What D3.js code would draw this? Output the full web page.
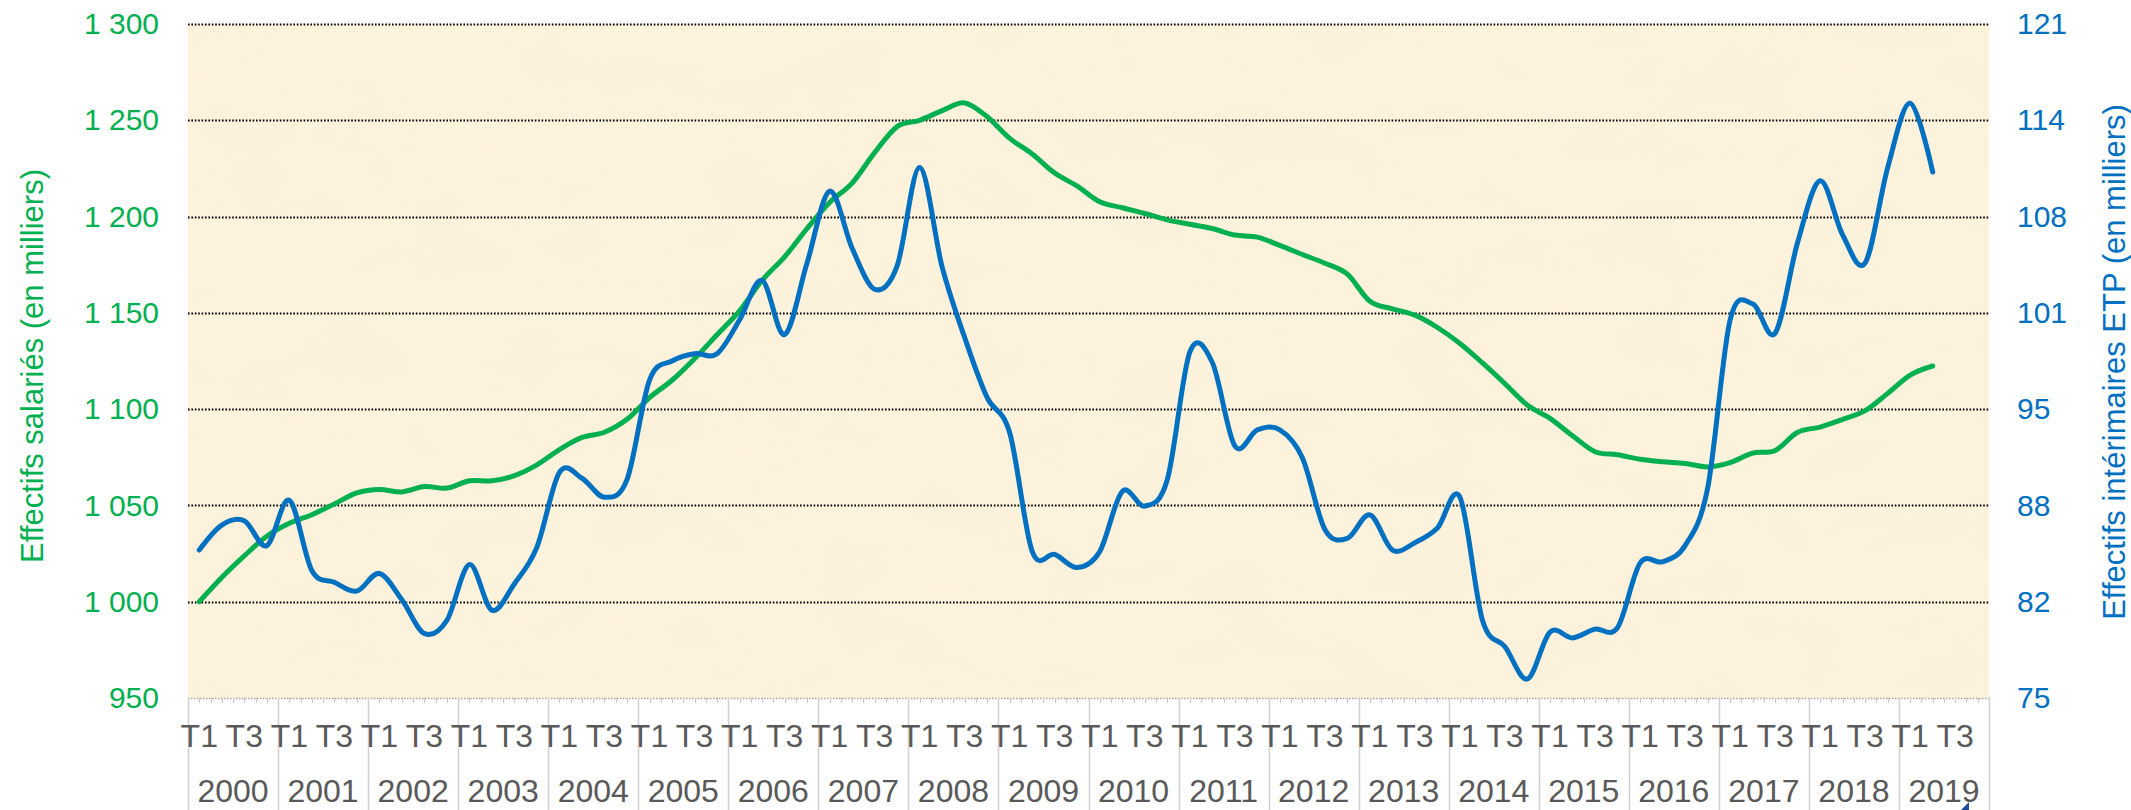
<!DOCTYPE html>
<html>
<head>
<meta charset="utf-8">
<script src="https://cdn.jsdelivr.net/npm/d3@7"></script>
<style>
  html, body { margin: 0; padding: 0; background: #ffffff; }
  svg { display: block; }
  text { font-family: "Liberation Sans", Arial, sans-serif; }
</style>
</head>
<body>
<svg id="chart" width="2131" height="810"></svg>
<script>
// ---------- DATA ----------
const years = ["2000","2001","2002","2003","2004","2005","2006","2007","2008","2009",
               "2010","2011","2012","2013","2014","2015","2016","2017","2018","2019"];
const quarters = ["T1","T2","T3","T4"];
const quarterLabels = ["T1","","T3",""];

// Effectifs salariés (en milliers), quarterly 2000 T1 -> 2019 T2
const salaries = [
  1000, 1012.6, 1023.8, 1034, 1040.7, 1045.2, 1050.8, 1056.5,
  1058.3, 1057, 1059.8, 1059, 1062.8, 1062.8, 1065.5, 1071.1,
  1079, 1085.3, 1088, 1094.7, 1106, 1115, 1126.2, 1138.6,
  1151, 1166.8, 1179.1, 1193.8, 1207.3, 1217.4, 1233.2, 1246.7,
  1250, 1255, 1259, 1251.8, 1240.6, 1232.5, 1222.6, 1215.8,
  1207.7, 1204.6, 1201.6, 1198.3, 1196, 1193.8, 1190.4, 1189.3,
  1185, 1180.3, 1175.8, 1170.1, 1156, 1152.1, 1148.8, 1142.4,
  1134.1, 1124, 1113.2, 1102, 1095.2, 1086.2, 1077.9, 1076.3,
  1074, 1072.7, 1071.8, 1070, 1072.2, 1077.2, 1078.5, 1088,
  1090.7, 1094.7, 1099.2, 1108.2, 1117.7, 1122.4
];

// Effectifs intérimaires ETP (en milliers)
const interim = [
  85.1, 86.8, 87.1, 85.4, 88.5, 83.7, 82.9, 82.3,
  83.5, 81.7, 79.4, 80.3, 84.1, 81.0, 82.8, 85.3,
  90.4, 90.0, 88.7, 89.9, 96.7, 98.0, 98.5, 98.5,
  100.8, 103.5, 99.8, 104.7, 109.6, 105.7, 102.9, 104.5,
  111.2, 104.4, 99.6, 95.5, 93.1, 85.0, 84.8, 83.9,
  85.0, 89.1, 88.1, 89.9, 98.6, 97.9, 92.2, 93.3,
  93.3, 91.4, 86.5, 85.9, 87.5, 85.1, 85.6, 86.6,
  88.7, 80.3, 78.5, 76.3, 79.5, 79.1, 79.7, 79.8,
  84.2, 84.3, 85.4, 89.3, 100.8, 101.9, 99.9, 106.1,
  110.3, 106.6, 104.7, 111.2, 115.6, 110.9
];

const leftTicks = [950, 1000, 1050, 1100, 1150, 1200, 1250, 1300];
const rightTicks = [75, 81.571, 88.143, 94.714, 101.286, 107.857, 114.429, 121];

const leftTitle = "Effectifs salariés (en milliers)";
const rightTitle = "Effectifs intérimaires ETP (en milliers)";

// ---------- LAYOUT ----------
const plot = { left: 188, right: 1989, top: 24, bottom: 698 };
const greenColor = "#00B050";
const blueColor = "#0070C0";
const labelGrey = "#595959";

const svg = d3.select("#chart");

// keys for all quarters (axis covers 2000 T1 .. 2019 T4)
const qKeys = [];
years.forEach(y => quarters.forEach(q => qKeys.push(y + "-" + q)));

const x = d3.scaleBand().domain(qKeys).range([plot.left, plot.right]).padding(0);
const xYear = d3.scaleBand().domain(years).range([plot.left, plot.right]).padding(0);
const yL = d3.scaleLinear().domain([950, 1300]).range([plot.bottom, plot.top]);
const yR = d3.scaleLinear().domain([75, 121]).range([plot.bottom, plot.top]);

const xc = i => x(qKeys[i]) + x.bandwidth() / 2;

// ---------- BACKGROUND (parchment) ----------
const defs = svg.append("defs");
const f = defs.append("filter").attr("id", "paper")
  .attr("x", 0).attr("y", 0).attr("width", "100%").attr("height", "100%");
f.append("feTurbulence").attr("type", "fractalNoise")
  .attr("baseFrequency", "0.010 0.018").attr("numOctaves", 3).attr("seed", 7).attr("result", "n");
f.append("feColorMatrix").attr("in", "n").attr("type", "matrix")
  .attr("values", "0 0 0 0 0.95  0 0 0 0 0.88  0 0 0 0 0.72  0 0 0 1.6 -0.62");

svg.append("rect")
  .attr("x", plot.left).attr("y", plot.top)
  .attr("width", plot.right - plot.left).attr("height", plot.bottom - plot.top)
  .attr("fill", "#FDF2DB");
svg.append("rect")
  .attr("x", plot.left).attr("y", plot.top)
  .attr("width", plot.right - plot.left).attr("height", plot.bottom - plot.top)
  .attr("fill", "#fff").attr("filter", "url(#paper)").attr("opacity", 0.55);

// ---------- GRIDLINES ----------
svg.append("g").selectAll("line")
  .data(leftTicks.filter(t => t > 950))
  .join("line")
  .attr("x1", plot.left).attr("x2", plot.right)
  .attr("y1", d => Math.round(yL(d)) + 0.5).attr("y2", d => Math.round(yL(d)) + 0.5)
  .attr("stroke", "#000").attr("stroke-width", 1.8)
  .attr("stroke-dasharray", "1.6,1.8");

// ---------- LEFT AXIS ----------
const frLocale = d3.formatLocale({ decimal: ",", thousands: " ", grouping: [3], currency: ["", " €"] });
const fmtL = frLocale.format(",d");
const axL = d3.axisLeft(yL).tickValues(leftTicks).tickFormat(fmtL).tickSize(0).tickPadding(0);
const gL = svg.append("g").attr("transform", "translate(159,0)").call(axL);
gL.select(".domain").remove();
gL.selectAll("text")
  .attr("fill", greenColor).attr("font-size", 30)
  .attr("font-family", "'Liberation Sans', Arial, sans-serif");

// ---------- RIGHT AXIS ----------
const axR = d3.axisRight(yR).tickValues(rightTicks).tickFormat(d => String(Math.round(d))).tickSize(0).tickPadding(0);
const gR = svg.append("g").attr("transform", "translate(2017,0)").call(axR);
gR.select(".domain").remove();
gR.selectAll("text")
  .attr("fill", blueColor).attr("font-size", 30)
  .attr("font-family", "'Liberation Sans', Arial, sans-serif");

// ---------- AXIS TITLES ----------
svg.append("text")
  .attr("transform", "translate(43,366) rotate(-90)")
  .attr("text-anchor", "middle")
  .attr("fill", greenColor).attr("font-size", 31)
  .text(leftTitle);
svg.append("text")
  .attr("transform", "translate(2125,362) rotate(-90)")
  .attr("text-anchor", "middle")
  .attr("fill", blueColor).attr("font-size", 31)
  .text(rightTitle);

// ---------- X AXIS ----------
// axis line (grey dotted)
svg.append("line")
  .attr("x1", plot.left).attr("x2", plot.right)
  .attr("y1", plot.bottom + 0.5).attr("y2", plot.bottom + 0.5)
  .attr("stroke", "#a6a6a6").attr("stroke-width", 1.5)
  .attr("stroke-dasharray", "1.5,1.5");

// minor ticks (half-quarter spacing)
const minorKeys = [];
qKeys.forEach(k => { minorKeys.push([k, 0]); minorKeys.push([k, 0.5]); });
svg.append("g").selectAll("line")
  .data(minorKeys)
  .join("line")
  .attr("x1", d => Math.round(x(d[0]) + d[1] * x.bandwidth()) + 0.5)
  .attr("x2", d => Math.round(x(d[0]) + d[1] * x.bandwidth()) + 0.5)
  .attr("y1", plot.bottom).attr("y2", plot.bottom + 5)
  .attr("stroke", "#c8c8c8").attr("stroke-width", 1);

// year separators
const sepVals = years.map(y => xYear(y)).concat([plot.right]);
svg.append("g").selectAll("line")
  .data(sepVals)
  .join("line")
  .attr("x1", d => Math.round(d) + 0.5).attr("x2", d => Math.round(d) + 0.5)
  .attr("y1", plot.bottom).attr("y2", 810)
  .attr("stroke", "#d0d0d0").attr("stroke-width", 1.5);

// quarter labels via axis
const axQ = d3.axisBottom(x)
  .tickValues(qKeys.filter((k, i) => quarterLabels[i % 4] !== ""))
  .tickFormat(k => k.split("-")[1])
  .tickSize(0).tickPadding(0);
const gQ = svg.append("g").attr("transform", `translate(0,${plot.bottom})`).call(axQ);
gQ.select(".domain").remove();
gQ.selectAll("text")
  .attr("dy", null).attr("y", 49)
  .attr("fill", labelGrey).attr("font-size", 32)
  .attr("font-family", "'Liberation Sans', Arial, sans-serif");

// year labels via axis
const axY = d3.axisBottom(xYear).tickSize(0).tickPadding(0);
const gY = svg.append("g").attr("transform", `translate(0,${plot.bottom})`).call(axY);
gY.select(".domain").remove();
gY.selectAll("text")
  .attr("dy", null).attr("y", 104)
  .attr("fill", labelGrey).attr("font-size", 32)
  .attr("font-family", "'Liberation Sans', Arial, sans-serif");

// ---------- LINES ----------
const curve = d3.curveCardinal.tension(0);
const lineL = d3.line().x((d, i) => xc(i)).y(d => yL(d)).curve(curve);
const lineR = d3.line().x((d, i) => xc(i)).y(d => yR(d)).curve(curve);

svg.append("path").datum(salaries)
  .attr("d", lineL).attr("fill", "none")
  .attr("stroke", greenColor).attr("stroke-width", 5)
  .attr("stroke-linecap", "round").attr("stroke-linejoin", "round");

svg.append("path").datum(interim)
  .attr("d", lineR).attr("fill", "none")
  .attr("stroke", blueColor).attr("stroke-width", 5)
  .attr("stroke-linecap", "round").attr("stroke-linejoin", "round");

// small corner marker at bottom
svg.append("path")
  .attr("d", "M1961,810 L1969,802 L1969,810 Z")
  .attr("fill", "#1F4E9A");
</script>
</body>
</html>
